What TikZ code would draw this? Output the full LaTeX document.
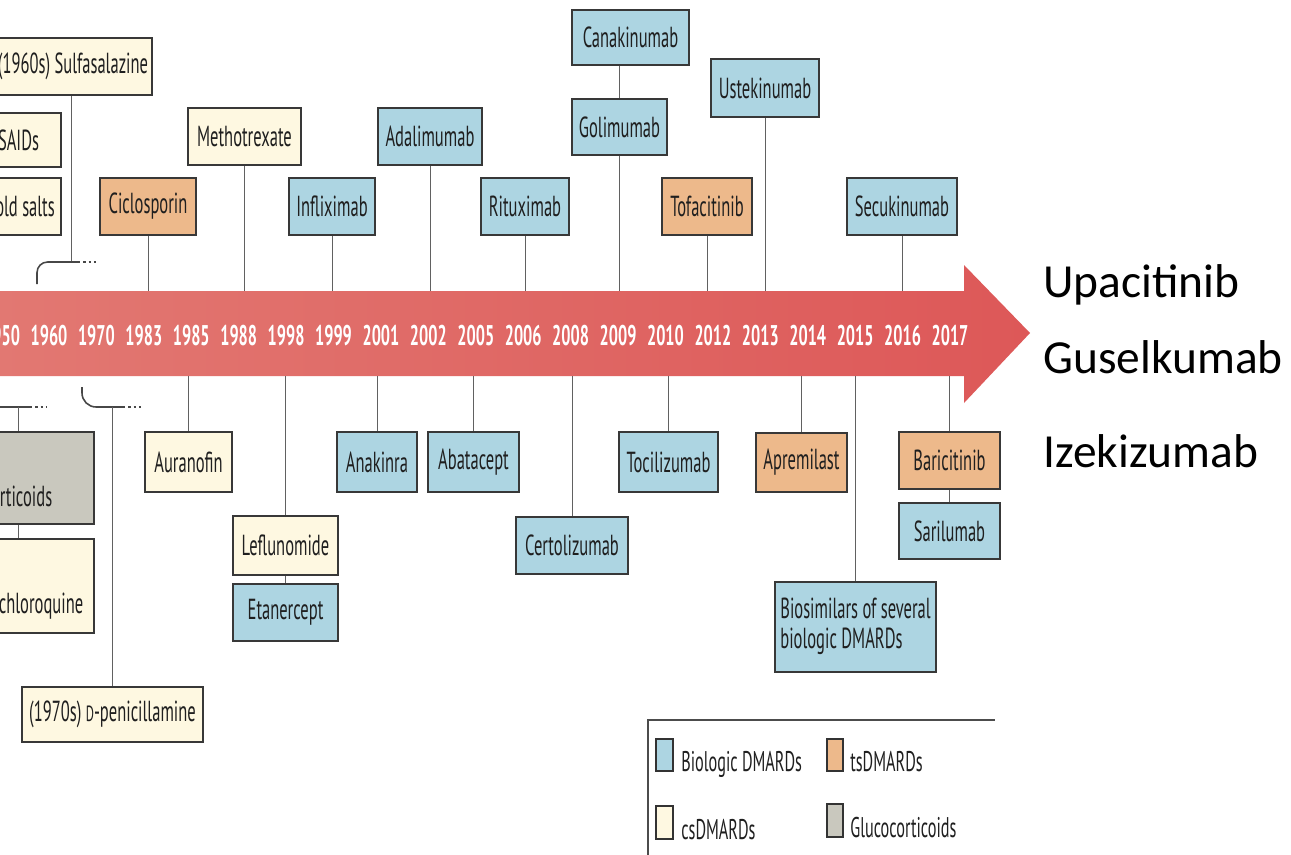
\documentclass[tikz,border=0pt]{standalone}
\usepackage{fontspec}
\newfontfamily\cond[FakeStretch=0.57]{PT Sans}
\newfontfamily\calib{Carlito}
\definecolor{bblue}{RGB}{173,213,226}
\definecolor{borange}{RGB}{237,185,139}
\definecolor{bcream}{RGB}{254,248,225}
\definecolor{bgrey}{RGB}{201,200,190}
\definecolor{arrL}{RGB}{226,120,114}
\definecolor{arrR}{RGB}{221,88,88}
\newlength\px \setlength\px{0.02cm}
\tikzset{
  box/.style={draw=black!78, line width=0.9pt, inner sep=0pt, align=center,
    font=\cond\fontsize{16.5}{19}\selectfont, text=black!88},
  conn/.style={draw=black!62, line width=0.55pt},
  brk/.style={draw=black!72, line width=0.9pt},
  dots/.style={draw=black!72, line width=0.9pt, dash pattern=on 1.4pt off 1.6pt},
  yr/.style={font=\cond\bfseries\fontsize{16.2}{18}\selectfont, text=white, anchor=base, inner sep=0pt},
  sw/.style={draw=black!80, line width=0.8pt},
  legtxt/.style={font=\cond\fontsize{16.2}{18}\selectfont, text=black!88, anchor=base west, inner sep=0pt},
  rtxt/.style={font=\calib\fontsize{27}{30}\selectfont, text=black, anchor=base west, inner sep=0pt}
}
\newcommand\bx[7]{\node[box,fill=#2,minimum width={(#5-(#3))*\px},minimum height={(#6-(#4))*\px}] (#1) at ({(#3+#5)/2},{(#4+#6)/2}) {#7};}
\begin{document}
\begin{tikzpicture}[x=0.02cm,y=-0.02cm]
\clip (0,0) rectangle (1291,855);
\fill[white] (0,0) rectangle (1291,855);
% arrow
\shade[left color=arrL, right color=arrR]
  (-5,291) -- (964,291) -- (964,265) -- (1030,333) -- (964,403) -- (964,376) -- (-5,376) -- cycle;
\coordinate (atop) at (0,291);
\coordinate (abot) at (0,376);
\foreach \yy [count=\i from 0] in {1950,1960,1970,1983,1985,1988,1998,1999,2001,2002,2005,2006,2008,2009,2010,2012,2013,2014,2015,2016,2017}
  \node[yr] (y\i) at ({1.6+47.42*\i},345) {\yy};
% top boxes
\bx{sulf}{bcream}{-6}{38}{152}{95}{(1960s) Sulfasalazine}
\bx{nsaid}{bcream}{-35}{113}{61}{167}{NSAIDs}
\bx{gold}{bcream}{-21}{178}{61}{235}{Gold salts}
\bx{cicl}{borange}{100}{178}{196}{235}{Ciclosporin}
\bx{metho}{bcream}{188}{108}{301}{165}{Methotrexate}
\bx{infl}{bblue}{289}{178}{375}{235}{Infliximab}
\bx{adal}{bblue}{378}{108}{482}{165}{Adalimumab}
\bx{ritu}{bblue}{481}{178}{569}{235}{Rituximab}
\bx{cana}{bblue}{572}{10}{689}{65}{Canakinumab}
\bx{goli}{bblue}{572}{99}{667}{155}{Golimumab}
\bx{tofa}{borange}{662}{178}{752}{235}{Tofacitinib}
\bx{uste}{bblue}{711}{59}{819}{117}{Ustekinumab}
\bx{secu}{bblue}{847}{178}{957}{235}{Secukinumab}
% bottom boxes
\bx{gluc}{bgrey}{-88}{432}{94}{524}{}
\node[box,draw=none,fill=none,anchor=base east] (glucT) at (53,506) {Glucocorticoids};
\bx{hydr}{bcream}{-52}{539}{94}{633}{}
\node[box,draw=none,fill=none,anchor=base east] (hydrT) at (84,613) {Hydroxychloroquine};
\bx{peni}{bcream}{22}{687}{203}{742}{(1970s) {\fontsize{12.5}{14}\selectfont D}-penicillamine}
\bx{aura}{bcream}{145}{432}{232}{492}{Auranofin}
\bx{lefl}{bcream}{233}{516}{338}{575}{Leflunomide}
\bx{etan}{bblue}{233}{584}{338}{641}{Etanercept}
\bx{anak}{bblue}{337}{432}{417}{492}{Anakinra}
\bx{abat}{bblue}{428}{432}{519}{492}{Abatacept}
\bx{cert}{bblue}{516}{517}{628}{574}{Certolizumab}
\bx{toci}{bblue}{619}{432}{718}{492}{Tocilizumab}
\bx{apre}{borange}{756}{433}{847}{492}{Apremilast}
\bx{bios}{bblue}{775}{582}{936}{672}{\begin{tabular}{@{}l@{}}Biosimilars of several\\[-2pt]biologic DMARDs\end{tabular}}
\bx{bari}{borange}{899}{432}{1000}{489}{Baricitinib}
\bx{sari}{bblue}{899}{503}{1000}{559}{Sarilumab}
% connectors top
\coordinate (sx) at (71,0);
\coordinate (tbA) at (37,284);
\coordinate (tbB) at (78,262);
\coordinate (tbC) at (97,262);
\draw[conn] (sulf.south -| sx) -- (sx |- tbB);
\draw[brk, rounded corners=6pt] (tbA) -- (tbA |- tbB) -- (tbB);
\draw[dots] (tbB) -- (tbC);
\foreach \n in {cicl,metho,infl,adal,ritu,goli,tofa,uste,secu}
  \draw[conn] (\n.south) -- (\n.south |- atop);
\draw[conn] (cana.south -| goli.north) -- (goli.north);
% connectors bottom
\coordinate (gx) at (18,0);
\coordinate (bbA) at (-5,407);
\coordinate (bbB) at (30,407);
\coordinate (bbC) at (47,407);
\draw[brk] (bbA) -- (bbB);
\draw[dots] (bbB) -- (bbC);
\draw[conn] (gx |- bbA) -- (gluc.north -| gx);
\draw[conn] (gluc.south -| gx) -- (hydr.north -| gx);
\coordinate (bcA) at (82,387);
\coordinate (bcB) at (123,407);
\coordinate (bcC) at (143,407);
\draw[brk, rounded corners=8pt] (bcA) -- (bcA |- bcB) -- (bcB);
\draw[dots] (bcB) -- (bcC);
\draw[conn] (peni.north |- bcB) -- (peni.north);
\foreach \n in {aura,lefl,anak,abat,cert,toci,apre,bios,bari}
  \draw[conn] (\n.north |- abot) -- (\n.north);
\draw[conn] (lefl.south) -- (etan.north);
\draw[conn] (bari.south) -- (sari.north);
% legend
\draw[draw=black!70, line width=0.7pt] (648,870) -- (648,720) -- (995,720);
\draw[sw, fill=bblue] (656,739) rectangle (673,771);
\draw[sw, fill=borange] (827,739) rectangle (843,771);
\draw[sw, fill=bcream] (656,806) rectangle (673,839);
\draw[sw, fill=bgrey] (827,804) rectangle (843,837);
\node[legtxt] (l1) at (681,771) {Biologic DMARDs};
\node[legtxt] (l2) at (850,771) {tsDMARDs};
\node[legtxt] (l3) at (681,839) {csDMARDs};
\node[legtxt] (l4) at (850,837) {Glucocorticoids};
% right texts
\node[rtxt] (r1) at (1043,297) {Upacitinib};
\node[rtxt] (r2) at (1043,373) {Guselkumab};
\node[rtxt] (r3) at (1043,467) {Izekizumab};
\end{tikzpicture}
\end{document}
